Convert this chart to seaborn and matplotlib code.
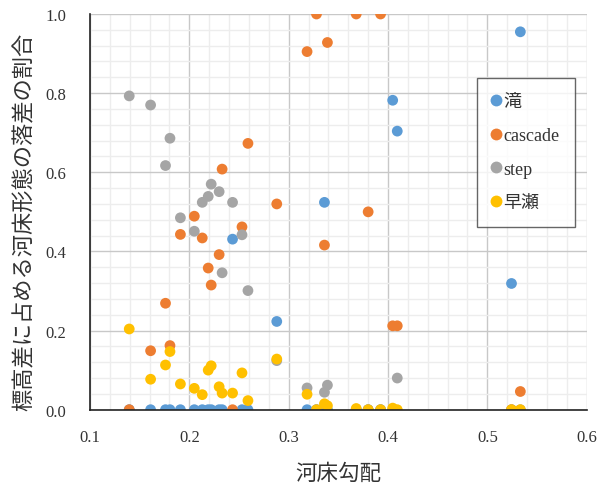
import matplotlib
matplotlib.use("Agg")
import matplotlib.pyplot as plt
import numpy as np
import pandas as pd
import seaborn as sns
from matplotlib.ticker import MultipleLocator

# river bed slope of each reach
slope = [0.1395, 0.161, 0.176, 0.1805, 0.191, 0.205, 0.213, 0.219, 0.222, 0.230,
         0.233, 0.2435, 0.253, 0.259, 0.288, 0.3185, 0.328, 0.336, 0.339, 0.368,
         0.380, 0.3925, 0.4047, 0.4093, 0.5243, 0.5332]

# share of the elevation drop taken by each bed form
taki = [0, 0, 0, 0, 0, 0, 0, 0, 0, 0,
        0, 0.431, 0, 0, 0.223, 0, 0, 0.524, 0, 0,
        0, 0, 0.782, 0.704, 0.319, 0.955]
cascade = [0, 0.149, 0.269, 0.162, 0.443, 0.489, 0.434, 0.358, 0.315, 0.392,
           0.608, 0, 0.462, 0.673, 0.520, 0.905, 1.0, 0.416, 0.928, 1.0,
           0.500, 1.0, 0.212, 0.212, 0, 0.046]
step = [0.793, 0.770, 0.617, 0.686, 0.485, 0.451, 0.524, 0.539, 0.570, 0.551,
        0.346, 0.524, 0.442, 0.301, 0.124, 0.055, 0, 0.044, 0.062, 0,
        0, 0, 0, 0.080, 0, 0]
hayase = [0.204, 0.077, 0.113, 0.147, 0.065, 0.054, 0.038, 0.100, 0.111, 0.058,
          0.042, 0.042, 0.093, 0.023, 0.128, 0.039, 0, 0.015, 0.010, 0.003,
          0, 0, 0.004, 0, 0, 0]

series_names = ["滝", "cascade", "step", "早瀬"]
series_colors = ["#5B9BD5", "#ED7D31", "#A5A5A5", "#FFC000"]

frames = []
for name, vals in zip(series_names, [taki, cascade, step, hayase]):
    frames.append(pd.DataFrame({"slope": slope, "ratio": vals, "type": name}))
df = pd.concat(frames, ignore_index=True)

sns.set_style("white")
plt.rcParams["font.family"] = ["Liberation Serif", "Noto Sans CJK JP"]

fig = plt.figure(figsize=(6.04, 4.89), dpi=100)
ax = fig.add_axes([90 / 604, 1 - 410.7 / 489, 496.7 / 604, 395.7 / 489])

sns.scatterplot(data=df, x="slope", y="ratio", hue="type", hue_order=series_names,
                palette=series_colors, s=60, linewidth=0, ax=ax, legend=True)

ax.set_xlim(0.1, 0.6)
ax.set_ylim(0, 1.0)
ax.xaxis.set_major_locator(MultipleLocator(0.1))
ax.xaxis.set_minor_locator(MultipleLocator(0.02))
ax.yaxis.set_major_locator(MultipleLocator(0.2))
ax.yaxis.set_minor_locator(MultipleLocator(0.04))
ax.xaxis.set_major_formatter(lambda v, p: f"{v:.1f}")
ax.yaxis.set_major_formatter(lambda v, p: f"{v:.1f}")

ax.grid(which="major", color="#C8C8C8", linewidth=1.0)
ax.grid(which="minor", color="#EDEDED", linewidth=1.0)
ax.set_axisbelow(True)

for side in ["top", "right"]:
    ax.spines[side].set_visible(False)
for side in ["left", "bottom"]:
    ax.spines[side].set_color("#222222")
    ax.spines[side].set_linewidth(1.2)

ax.tick_params(axis="both", which="major", direction="out", length=5, width=1,
               color="#222222", labelsize=12, labelcolor="#333333")
ax.tick_params(axis="x", which="major", pad=9)
ax.tick_params(axis="y", which="major", pad=12)
ax.tick_params(which="minor", length=0)

ax.set_xlabel("河床勾配", fontsize=15.5, color="#333333", labelpad=13)
ax.set_ylabel("標高差に占める河床形態の落差の割合", fontsize=16, color="#333333")
ax.yaxis.set_label_coords(-0.109, 0.477)

leg = ax.legend(loc="upper left", bbox_to_anchor=(477 / 604, 1 - 79 / 489),
                bbox_transform=fig.transFigure, borderaxespad=0, frameon=True,
                fancybox=False, fontsize=13, labelspacing=0.92, handlelength=0.35,
                handletextpad=0.25, borderpad=0.85, markerscale=1.1)
leg.get_frame().set_edgecolor("#404040")
leg.get_frame().set_linewidth(1.0)
for t in leg.get_texts():
    t.set_color("#333333")

fig.savefig("out.png", dpi=100)
